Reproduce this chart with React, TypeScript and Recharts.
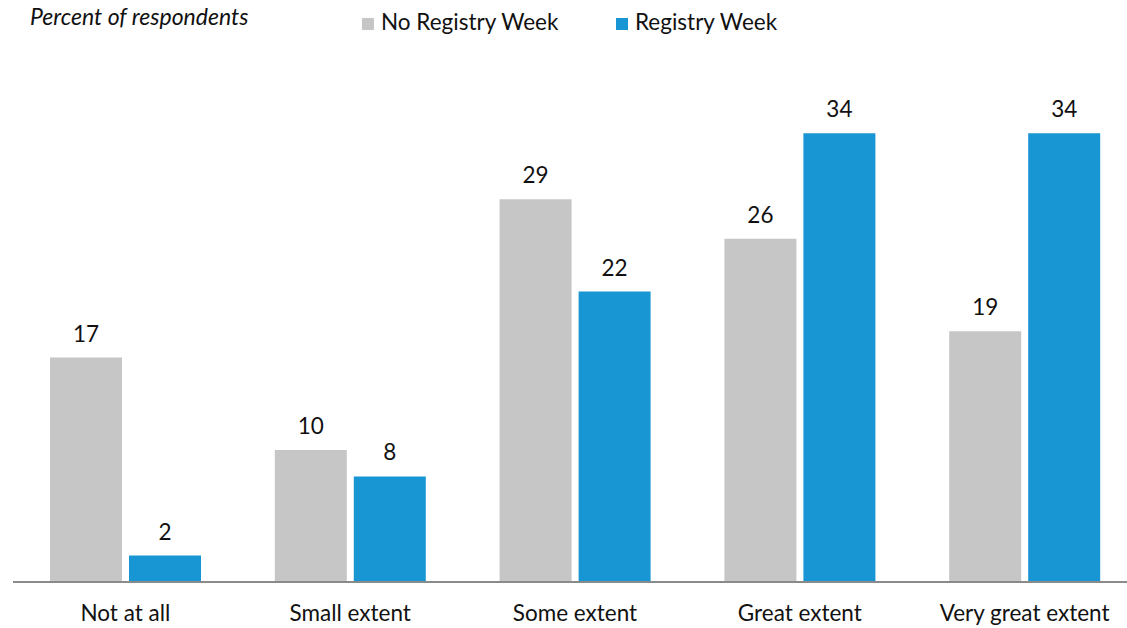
import { BarChart, Bar, XAxis, YAxis, LabelList, Legend } from 'recharts';

const CATEGORIES = ['Not at all', 'Small extent', 'Some extent', 'Great extent', 'Very great extent'];
const NO_REGISTRY = [17, 10, 29, 26, 19];
const REGISTRY = [2, 8, 22, 34, 34];

const GRAY = '#c6c6c6';
const BLUE = '#1896d4';
const FONT = 'Lato, "Noto Sans", sans-serif';
const FS = 22.5;

const data = CATEGORIES.map((name, i) => ({
  name,
  noRegistry: NO_REGISTRY[i],
  registry: REGISTRY[i],
}));

const LEGEND_X = [362, 616];

function TopLegend({ payload }: { payload?: { value: string; color: string }[] }) {
  return (
    <div style={{ position: 'relative', width: 1127, height: 40, fontFamily: FONT, fontSize: FS, color: '#111' }}>
      <span style={{ position: 'absolute', left: 30, top: 5, fontStyle: 'italic', fontSize: 23, lineHeight: 1 }}>
        Percent of respondents
      </span>
      {(payload ?? []).map((p, i) => (
        <div key={p.value} style={{ position: 'absolute', left: LEGEND_X[i], top: 11, display: 'flex', alignItems: 'center' }}>
          <span style={{ width: 12, height: 12, background: p.color, display: 'inline-block', marginRight: 7, marginTop: 3 }} />
          <span style={{ lineHeight: 1 }}>{p.value}</span>
        </div>
      ))}
    </div>
  );
}

export default function App() {
  return (
    <div style={{ position: 'absolute', left: 0, top: 0, width: 1127, height: 628, overflow: 'hidden', background: '#fff' }}>
      <BarChart
        width={1137}
        height={628}
        data={data}
        margin={{ top: 54, right: 0, left: 13, bottom: 0 }}
        barSize={72}
        barGap={7}
      >
        <XAxis
          dataKey="name"
          height={46}
          tickLine={false}
          tickSize={0}
          tickMargin={23}
          axisLine={{ stroke: '#8a8a8a', strokeWidth: 2 }}
          tick={{ fill: '#111', fontSize: FS, fontFamily: FONT }}
          interval={0}
        />
        <YAxis hide domain={[0, 40]} />
        <Legend
          layout="horizontal"
          verticalAlign="middle"
          align="center"
          wrapperStyle={{ top: 0, left: 0, width: 1127 }}
          content={(props: any) => <TopLegend payload={props.payload} />}
        />
        <Bar dataKey="noRegistry" name="No Registry Week" fill={GRAY} isAnimationActive={false}>
          <LabelList dataKey="noRegistry" position="top" offset={16} fill="#111" fontSize={FS} fontFamily={FONT} />
        </Bar>
        <Bar dataKey="registry" name="Registry Week" fill={BLUE} isAnimationActive={false}>
          <LabelList dataKey="registry" position="top" offset={16} fill="#111" fontSize={FS} fontFamily={FONT} />
        </Bar>
      </BarChart>
    </div>
  );
}
